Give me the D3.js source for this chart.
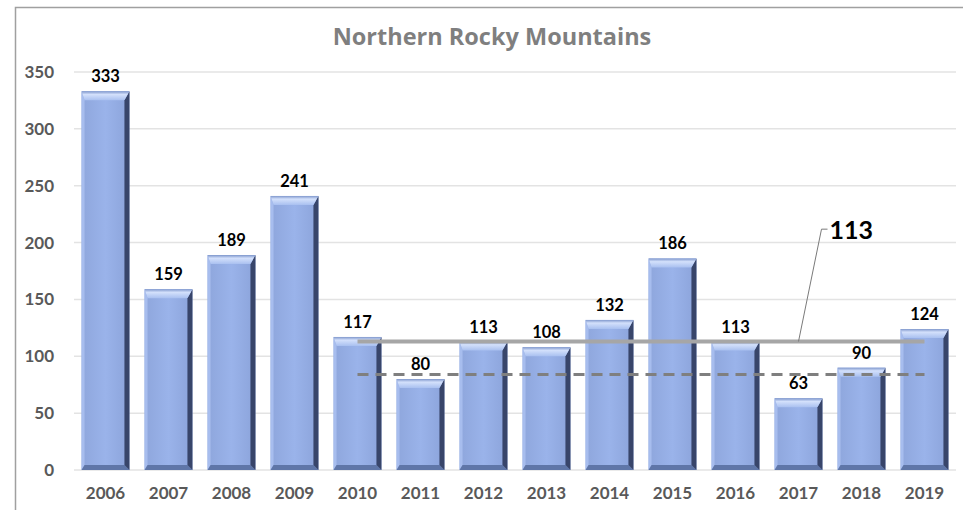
<!DOCTYPE html>
<html>
<head>
<meta charset="utf-8">
<script src="https://cdn.jsdelivr.net/npm/d3@7"></script>
<style>
  body { margin: 0; background: #fff; }
  text { font-family: Lato, "Open Sans", sans-serif; }
</style>
</head>
<body>
<script>
var years = ["2006", "2007", "2008", "2009", "2010", "2011", "2012", "2013", "2014", "2015", "2016", "2017", "2018", "2019"];
var counts = [333, 159, 189, 241, 117, 80, 113, 108, 132, 186, 113, 63, 90, 124];
var yTicks = [0, 50, 100, 150, 200, 250, 300, 350];
var avgValue = 113;     // solid line, 2010-2019
var dashedValue = 84;   // dashed line, 2010-2019
var lineStart = "2010", lineEnd = "2019";

var data = years.map((y, i) => ({ year: y, value: counts[i] }));

var outerWidth = 963, outerHeight = 510;
var margin = { top: 72, right: 7, bottom: 40, left: 74 };
var width = outerWidth - margin.left - margin.right;
var height = outerHeight - margin.top - margin.bottom;

var svg = d3.select("body").append("svg")
  .attr("width", outerWidth)
  .attr("height", outerHeight);

// chart frame
svg.append("path")
  .attr("d", "M15.5," + outerHeight + " V7.5 H" + outerWidth)
  .attr("fill", "none")
  .attr("stroke", "#a0a0a0")
  .attr("stroke-width", 1.5);

svg.append("text")
  .attr("x", 492)
  .attr("y", 45)
  .attr("text-anchor", "middle")
  .style("font-family", "'Open Sans', sans-serif")
  .attr("font-size", 23.5)
  .attr("font-weight", "bold")
  .attr("fill", "#7f7f7f")
  .text("Northern Rocky Mountains");

var g = svg.append("g")
  .attr("transform", "translate(" + margin.left + "," + margin.top + ")");

var xScale = d3.scaleBand().domain(years).range([0, width]).paddingInner(0.24).paddingOuter(0.12);
var yScale = d3.scaleLinear().domain([0, 350]).range([height, 0]);

// gridlines
g.selectAll(".grid")
  .data(yTicks)
  .enter()
  .append("line")
  .attr("class", "grid")
  .attr("x1", 0)
  .attr("x2", width)
  .attr("y1", (d) => yScale(d))
  .attr("y2", (d) => yScale(d))
  .attr("stroke", "#e3e3e3")
  .attr("stroke-width", 1.5);

// y axis
var yAxis = d3.axisLeft(yScale).tickValues(yTicks).tickSize(0).tickPadding(20);
g.append("g").call(yAxis)
  .call((s) => s.select(".domain").remove())
  .selectAll("text")
  .attr("font-size", 17)
  .attr("font-weight", "bold")
  .attr("fill", "#595959");

// x axis
var xAxis = d3.axisBottom(xScale).tickSize(0).tickPadding(17);
g.append("g")
  .attr("transform", "translate(0," + height + ")")
  .call(xAxis)
  .call((s) => s.select(".domain").remove())
  .selectAll("text")
  .attr("font-size", 17)
  .attr("font-weight", "bold")
  .attr("fill", "#595959");

// gradients for the bevelled bars
var defs = svg.append("defs");
var face = defs.append("linearGradient").attr("id", "face").attr("x1", 0).attr("x2", 1).attr("y1", 0).attr("y2", 0);
face.append("stop").attr("offset", "0%").attr("stop-color", "#8ea6dc");
face.append("stop").attr("offset", "50%").attr("stop-color", "#9ab3ea");
face.append("stop").attr("offset", "100%").attr("stop-color", "#8ba3da");
var topBev = defs.append("linearGradient").attr("id", "topbev").attr("x1", 0).attr("x2", 0).attr("y1", 0).attr("y2", 1);
topBev.append("stop").attr("offset", "0%").attr("stop-color", "#7f97cc");
topBev.append("stop").attr("offset", "35%").attr("stop-color", "#d3e0fb");
topBev.append("stop").attr("offset", "100%").attr("stop-color", "#a9c0f0");

var bw = xScale.bandwidth();
var bev = 9, side = 5;

var bars = g.selectAll(".bar")
  .data(data)
  .enter()
  .append("g")
  .attr("class", "bar")
  .attr("transform", (d) => "translate(" + xScale(d.year) + "," + yScale(d.value) + ")");

bars.append("rect")
  .attr("width", bw)
  .attr("height", (d) => height - yScale(d.value))
  .attr("fill", "url(#face)");

// left edge
bars.append("path")
  .attr("d", (d) => {
    var h = height - yScale(d.value);
    return "M0,0 L3," + bev + " L3," + (h - side) + " L0," + h + "Z";
  })
  .attr("fill", "#a7bdee");

// bottom edge
bars.append("path")
  .attr("d", (d) => {
    var h = height - yScale(d.value);
    return "M0," + h + " L3," + (h - side) + " L" + (bw - side) + "," + (h - side) + " L" + bw + "," + h + "Z";
  })
  .attr("fill", "#5f76a8");

// right edge
bars.append("path")
  .attr("d", (d) => {
    var h = height - yScale(d.value);
    return "M" + bw + ",0 L" + (bw - side) + "," + bev + " L" + (bw - side) + "," + (h - side) + " L" + bw + "," + h + "Z";
  })
  .attr("fill", "#38456a");

// top bevel
bars.append("path")
  .attr("d", "M0,0 L" + bw + ",0 L" + (bw - side) + "," + bev + " L3," + bev + "Z")
  .attr("fill", "url(#topbev)");

// value labels
g.selectAll(".value")
  .data(data)
  .enter()
  .append("text")
  .attr("class", "value")
  .attr("x", (d) => xScale(d.year) + bw / 2)
  .attr("y", (d) => yScale(d.value) - 9)
  .attr("text-anchor", "middle")
  .attr("font-size", 16.5)
  .attr("font-weight", "bold")
  .attr("fill", "#000")
  .text((d) => d.value);

// reference lines
var lx1 = xScale(lineStart) + bw / 2;
var lx2 = xScale(lineEnd) + bw / 2;

g.append("line")
  .attr("x1", lx1).attr("x2", lx2)
  .attr("y1", yScale(avgValue)).attr("y2", yScale(avgValue))
  .attr("stroke", "#a6a6a6")
  .attr("stroke-width", 4);

g.append("line")
  .attr("x1", lx1).attr("x2", lx2)
  .attr("y1", yScale(dashedValue)).attr("y2", yScale(dashedValue))
  .attr("stroke", "#7f7f7f")
  .attr("stroke-width", 3)
  .attr("stroke-dasharray", "11,7");

// callout for the solid line
var calloutX = xScale("2017") + bw / 2;
var labelX = calloutX + 31, labelY = yScale(203);
g.append("path")
  .attr("d", "M" + calloutX + "," + yScale(avgValue) + " L" + (labelX - 8) + "," + (labelY - 10) + " H" + (labelX - 2))
  .attr("fill", "none")
  .attr("stroke", "#7a7a7a")
  .attr("stroke-width", 1);

g.append("text")
  .attr("x", labelX)
  .attr("y", labelY)
  .attr("font-size", 25)
  .attr("font-weight", "bold")
  .attr("fill", "#000")
  .text(avgValue);
</script>
</body>
</html>
